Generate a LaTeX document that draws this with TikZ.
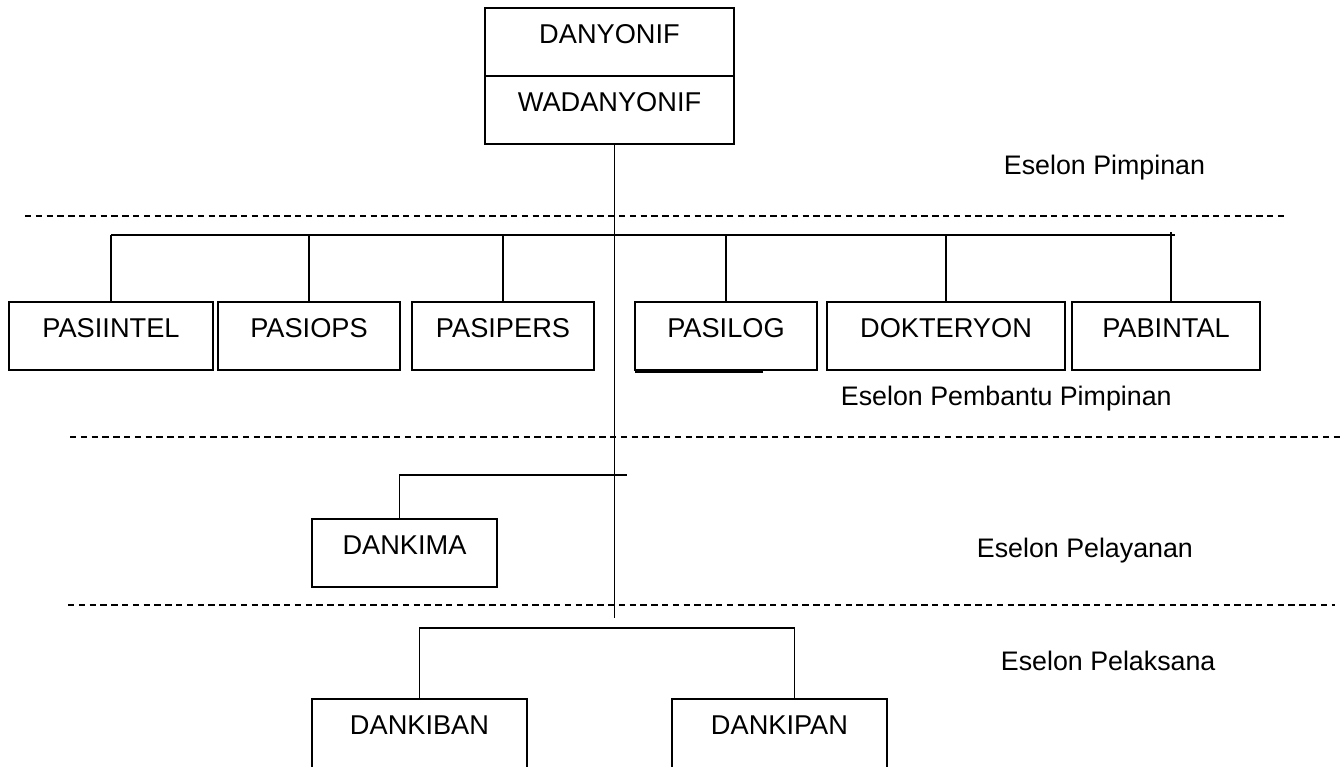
\documentclass[tikz,border=0pt]{standalone}
\usepackage{fontspec}
\setmainfont{Liberation Sans}
\usetikzlibrary{positioning}

\begin{document}
\begin{tikzpicture}[x=0.5pt, y=-0.5pt, line width=0.9pt,
    unit/.style={draw, rectangle, outer sep=0pt, inner xsep=0pt, inner ysep=8pt,
      text height=9.6pt, text depth=8.4pt, font=\fontsize{13.6pt}{15pt}\selectfont},
    level/.style={anchor=base west, inner sep=0pt, font=\fontsize{13.4pt}{15pt}\selectfont},
    sepline/.style={line width=0.8pt, dash pattern=on 3.2pt off 2.2pt}]
  \clip (0,0) rectangle (1343,766);

  \node[unit, minimum width=124.5pt, anchor=north west] (dan) at (485,8) {DANYONIF};
  \node[unit, minimum width=124.5pt, below=0pt of dan]  (wadan) {WADANYONIF};

  \node[unit, minimum width=102pt, anchor=north west] (pintel) at (9,302) {PASIINTEL};
  \node[unit, minimum width=91pt, right=2.5pt of pintel]  (pops) {PASIOPS};
  \node[unit, minimum width=91pt, right=6pt of pops]      (ppers) {PASIPERS};
  \node[unit, minimum width=91pt, right=20.5pt of ppers]  (plog) {PASILOG};
  \node[unit, minimum width=119pt, right=5pt of plog]     (dokter) {DOKTERYON};
  \node[unit, minimum width=94pt, right=3.5pt of dokter]  (pabintal) {PABINTAL};

  \node[unit, minimum width=92.5pt, anchor=north west] (dankima) at (312,519) {DANKIMA};

  \node[unit, text depth=16pt, minimum width=107.5pt, anchor=north west] (dankiban) at (312,699) {DANKIBAN};
  \node[unit, text depth=16pt, minimum width=107.5pt, right=72.5pt of dankiban] (dankipan) {DANKIPAN};

  \node[level] (lvpimpinan)  at (1003,174) {Eselon Pimpinan};
  \node[level] (lvpembantu)  at (840,405)  {Eselon Pembantu Pimpinan};
  \node[level] (lvpelayanan) at (976,557)  {Eselon Pelayanan};
  \node[level] (lvpelaksana) at (1000,670) {Eselon Pelaksana};

  \draw[sepline] (25,216) -- (1288,216);
  \draw[sepline] (70,437) -- (1343,437);
  \draw[sepline] (68,605) -- (1335,605);

  \coordinate (trunk)    at ([xshift=2.5pt]wadan.south);
  \coordinate (trunkend) at (trunk |- 0,618);
  \coordinate (rowbus)   at (0,235);
  \coordinate (kimabus)  at (0,475);
  \coordinate (lowbus)   at (0,628);
  \coordinate (pabtop)   at ([xshift=2.5pt]pabintal.north);
  \coordinate (pabend)   at ([xshift=4.5pt]pabintal.north);
  \coordinate (kimatop)  at ([xshift=-2.5pt]dankima.north);
  \coordinate (kimaend)  at ([xshift=6pt]trunk);
  \coordinate (pantop)   at ([xshift=7.5pt]dankipan.north);

  \draw (trunk) -- (trunkend);

  \draw (pintel.north |- rowbus) -- (pabend |- rowbus);
  \foreach \n in {pintel, pops, ppers, plog, dokter}
    \draw (\n.north) -- (\n.north |- rowbus);
  \draw (pabtop) -- ++(0,-70);
  \draw ([yshift=-1pt]plog.south west) -- ++(128,0);

  \draw (kimatop) -- (kimatop |- kimabus) -- (kimaend |- kimabus);

  \draw (dankiban.north) -- (dankiban.north |- lowbus) -- (pantop |- lowbus) -- (pantop);
\end{tikzpicture}
\end{document}
